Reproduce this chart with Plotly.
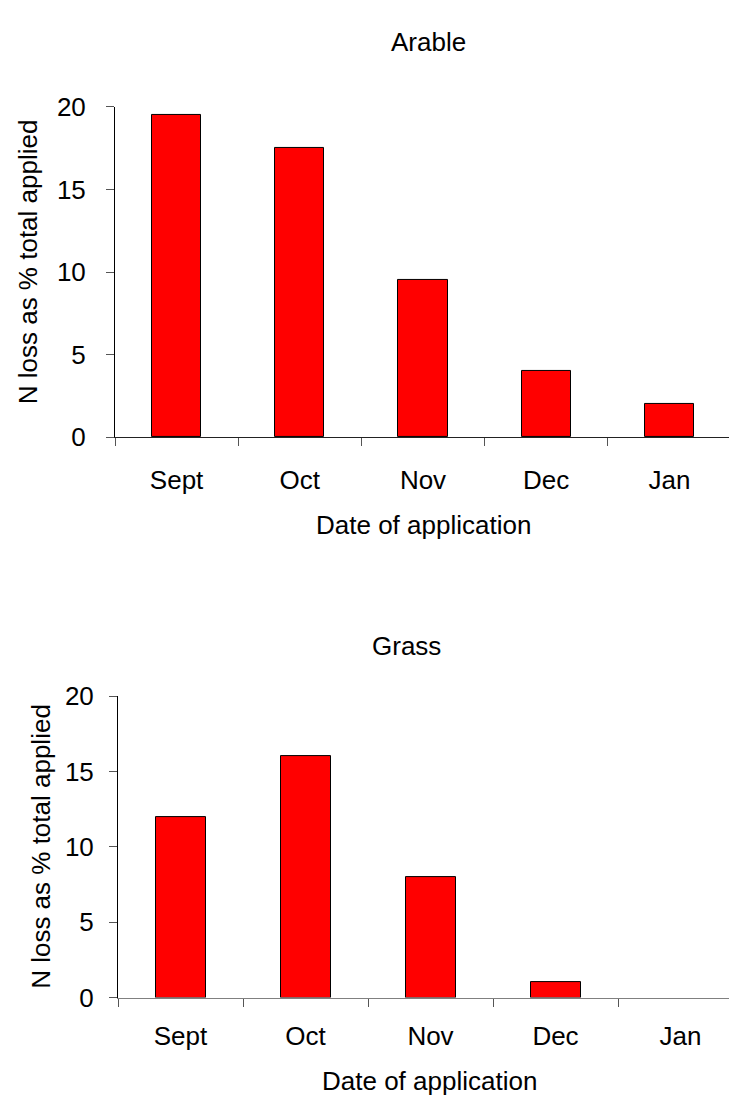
import plotly.graph_objects as go

months = ["Sept", "Oct", "Nov", "Dec", "Jan"]
arable = [19.5, 17.5, 9.5, 4, 2]
grass = [12, 16, 8, 1, 0]
y_ticks = [0, 5, 10, 15, 20]

# page body has an 8px default margin, so the figure is offset by 8px
OFF = 8
W, H = 737 - OFF, 1106 - OFF
FONT = "Arial, Liberation Sans, sans-serif"
FS = 26

def px_x(x):
    return (x - OFF) / W

def px_y(y):
    return 1 - (y - OFF) / H

def outline(vals):
    # zero-height bars show no outline in the reference
    return [1 if v > 0 else 0 for v in vals]

fig = go.Figure()
fig.add_trace(go.Bar(x=months, y=arable, width=0.4,
                     marker=dict(color="#ff0000", line=dict(color="black", width=outline(arable))),
                     xaxis="x", yaxis="y", showlegend=False))
fig.add_trace(go.Bar(x=months, y=grass, width=0.4,
                     marker=dict(color="#ff0000", line=dict(color="black", width=outline(grass))),
                     xaxis="x2", yaxis="y2", showlegend=False))

common_x = dict(type="category", showgrid=False, zeroline=False, showline=True, ticks="outside",
                tickson="boundaries", ticklen=8, tickcolor="#555", tickfont=dict(size=FS, color="black"))
common_y = dict(showgrid=False, zeroline=False, showline=True, linecolor="black", ticks="outside", ticklen=8,
                tickcolor="#555", tickvals=y_ticks, range=[0, 20], tickfont=dict(size=FS, color="black"))

# bottom chart's category band is 125px wide and runs off the right edge
bottom_right = 4.5 - (118 + 5 * 125 - 737) / 125.0

fig.update_layout(
    width=W, height=H,
    margin=dict(l=0, r=0, t=0, b=0),
    paper_bgcolor="white", plot_bgcolor="white",
    font=dict(family=FONT, size=FS, color="black"),
    bargap=0,
    xaxis=dict(common_x, domain=[px_x(115), px_x(731)], range=[-0.5, 4.5], anchor="y", linecolor="#222",
               ticklabelstandoff=19),
    yaxis=dict(common_y, domain=[px_y(434), px_y(94.3)], anchor="x", ticklabelstandoff=15),
    xaxis2=dict(common_x, domain=[px_x(118), 1.0], range=[-0.5, bottom_right], anchor="y2", linecolor="#808080",
                ticklabelstandoff=15),
    yaxis2=dict(common_y, domain=[px_y(1010), px_y(700)], anchor="x2", ticklabelstandoff=10),
)

def ann(text, x, y, angle=0):
    fig.add_annotation(text=text, xref="paper", yref="paper", x=px_x(x), y=px_y(y), showarrow=False,
                       xanchor="center", yanchor="middle", textangle=angle,
                       font=dict(size=FS, family=FONT, color="black"))

ann("Arable", 428, 28)
ann("Grass", 406, 649)
ann("Date of application", 423, 524)
ann("Date of application", 430, 1096)
ann("N loss as % total applied", 28, 254, -90)
ann("N loss as % total applied", 41, 855, -90)

fig.write_html("out.html")
